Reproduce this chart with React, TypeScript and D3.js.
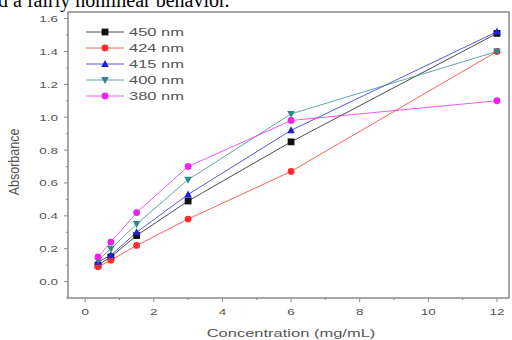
import { scaleLinear, line, range } from 'd3'

const W = 512
const H = 340
const margin = { top: 12, right: 3, bottom: 42, left: 68 }

const concentrations = [0.375, 0.75, 1.5, 3, 6, 12]
const seriesNames = ['450 nm', '424 nm', '415 nm', '400 nm', '380 nm']
const abs450 = [0.1, 0.15, 0.28, 0.49, 0.85, 1.51]
const abs424 = [0.09, 0.13, 0.22, 0.38, 0.67, 1.4]
const abs415 = [0.12, 0.16, 0.3, 0.53, 0.92, 1.52]
const abs400 = [0.13, 0.2, 0.35, 0.62, 1.02, 1.4]
const abs380 = [0.15, 0.24, 0.42, 0.7, 0.98, 1.1]
const xTicks = [0, 2, 4, 6, 8, 10, 12]
const yTicks = [0, 0.2, 0.4, 0.6, 0.8, 1.0, 1.2, 1.4, 1.6]

const seriesValues = [abs450, abs424, abs415, abs400, abs380]
const colors = ['#111111', '#ff2a2a', '#1f1fe0', '#2a8a8a', '#ee22ee']
const markers = ['square', 'circle', 'up', 'down', 'circle']

const x = scaleLinear().domain([-0.5, 12.35]).range([margin.left, W - margin.right])
const y = scaleLinear().domain([-0.1, 1.64]).range([H - margin.bottom, margin.top])

// the source image is stretched sideways, so text is widened too
const STRETCH = 1.5

const Marker = ({ kind, cx, cy, color }: { kind: string; cx: number; cy: number; color: string }) => {
  const s = 3.4
  if (kind === 'square') return <rect x={cx - s} y={cy - s} width={s * 2} height={s * 2} fill={color} />
  if (kind === 'circle') return <circle cx={cx} cy={cy} r={s} fill={color} />
  if (kind === 'up')
    return <path d={`M${cx},${cy - s - 0.6}L${cx + s + 0.4},${cy + s - 0.4}L${cx - s - 0.4},${cy + s - 0.4}Z`} fill={color} />
  return <path d={`M${cx},${cy + s + 0.6}L${cx + s + 0.4},${cy - s + 0.4}L${cx - s - 0.4},${cy - s + 0.4}Z`} fill={color} />
}

const Label = ({ tx, ty, anchor = 'start', size, children }: { tx: number; ty: number; anchor?: string; size: number; children: any }) => (
  <text
    transform={`translate(${tx},${ty}) scale(${STRETCH},1)`}
    textAnchor={anchor}
    fontFamily="Arial, sans-serif"
    fontSize={size}
    fill="#555555"
  >
    {children}
  </text>
)

export default function App() {
  const lineGen = line<number>()
    .x((d, i) => x(concentrations[i]))
    .y(d => y(d))

  const axisColor = '#8a8a8a'
  const x0 = margin.left
  const x1 = W - margin.right
  const y0 = H - margin.bottom
  const y1 = margin.top

  return (
    <svg width={W} height={H} style={{ position: 'absolute', left: 0, top: 0, background: '#fff' }}>
      <text x={-2} y={7} fontFamily="Liberation Serif, serif" fontSize={20} fill="#000">
        d a fairly nonlinear behavior.
      </text>

      {/* frame */}
      <rect x={x0} y={y1} width={x1 - x0} height={y0 - y1} fill="none" stroke={axisColor} strokeWidth={1.5} />

      {/* y ticks */}
      {yTicks.map(t => (
        <g key={'y' + t}>
          <line x1={x0 - 4} x2={x0} y1={y(t)} y2={y(t)} stroke={axisColor} />
          <Label tx={x0 - 10} ty={y(t) + 3.5} anchor="end" size={9}>
            {t.toFixed(1)}
          </Label>
        </g>
      ))}
      {range(-0.1, 1.6, 0.2).map(t => (
        <line key={'ym' + t} x1={x0 - 2} x2={x0} y1={y(t)} y2={y(t)} stroke={axisColor} />
      ))}

      {/* x ticks */}
      {xTicks.map(t => (
        <g key={'x' + t}>
          <line x1={x(t)} x2={x(t)} y1={y0} y2={y0 + 4} stroke={axisColor} />
          <Label tx={x(t)} ty={y0 + 17} anchor="middle" size={9}>
            {t}
          </Label>
        </g>
      ))}
      {range(1, 12, 2).map(t => (
        <line key={'xm' + t} x1={x(t)} x2={x(t)} y1={y0} y2={y0 + 2} stroke={axisColor} />
      ))}

      {/* axis titles */}
      <Label tx={291} ty={337} anchor="middle" size={11}>
        Concentration (mg/mL)
      </Label>
      <text
        transform={`translate(19,162) scale(1.2,1) rotate(-90)`}
        textAnchor="middle"
        fontFamily="Arial, sans-serif"
        fontSize={12.5}
        fill="#555555"
      >
        Absorbance
      </text>

      {/* series */}
      {seriesValues.map((vals, si) => (
        <g key={seriesNames[si]}>
          <path d={lineGen(vals) || ''} fill="none" stroke={colors[si]} strokeWidth={1} strokeOpacity={0.75} />
          {vals.map((v, i) => (
            <Marker key={i} kind={markers[si]} cx={x(concentrations[i])} cy={y(v)} color={colors[si]} />
          ))}
        </g>
      ))}

      {/* legend */}
      {seriesNames.map((name, i) => {
        const ly = 32 + i * 16
        return (
          <g key={'lg' + name}>
            <line x1={86} x2={124} y1={ly} y2={ly} stroke={colors[i]} strokeOpacity={0.75} />
            <Marker kind={markers[i]} cx={105} cy={ly} color={colors[i]} />
            <Label tx={129} ty={ly + 4} size={11}>
              {name}
            </Label>
          </g>
        )
      })}
    </svg>
  )
}
